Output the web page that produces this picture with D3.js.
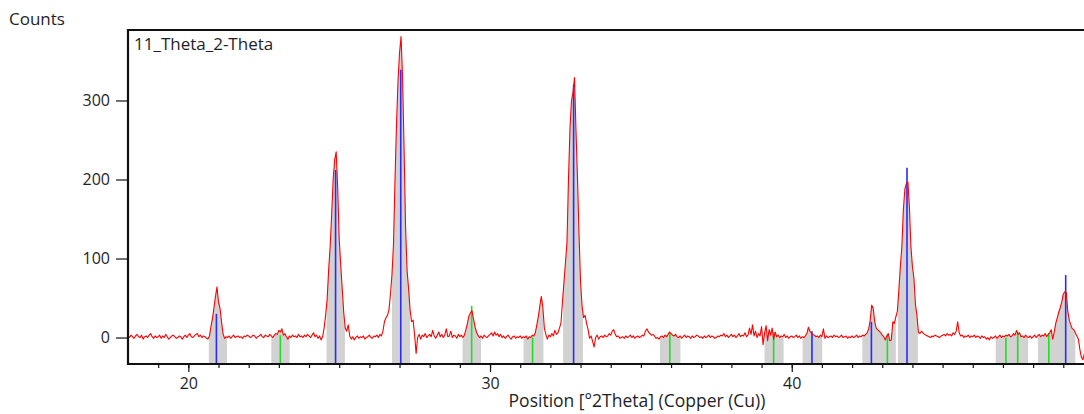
<!DOCTYPE html>
<html>
<head>
<meta charset="utf-8">
<script src="https://cdn.jsdelivr.net/npm/d3@7"></script>
<style>
  html, body { margin: 0; padding: 0; background: #fff; }
  svg { display: block; }
  text { font-family: "Open Sans", "Noto Sans", sans-serif; fill: #1e1e28; }
</style>
</head>
<body>
<svg id="chart" width="1084" height="414"></svg>
<script>
// Scan: 2Theta from 18.00 deg in 0.05 deg steps
const scanStart = 18.0;
const scanStep = 0.05;
const counts = [
  // 18
  2, 0, 3, 1, -1, 2, 4, 1, 0, 3, -2, 1, 2, 0, 3, 5, 1, -1, 2, 0,
  // 19
  1, 3, -1, 2, 0, 4, 1, -2, 0, 2, 3, 1, -1, 0, 2, 1, -2, 1, 3, 0,
  // 20
  3, 5, 1, 0, 2, 4, 5, 1, 3, 0, 2, 1, -1, -2, 2, 14, 24, 38, 52, 64,
  // 21
  45, 37, 20, 5, -1, 1, 0, 2, -1, 1, 3, 0, 1, 2, 0, 1, -1, 2, 1, 3,
  // 22
  2, 0, 1, 3, 2, -1, 1, 2, 4, 1, 0, 3, 2, 1, 4, 2, 0, 3, 5, 4,
  // 23
  9, 7, 11, 3, 5, 1, -2, 2, 0, 3, 1, 2, 0, 4, 1, 2, 0, 3, 1, 4,
  // 24
  2, 0, 3, 6, 1, 3, -1, 2, -3, 1, 12, 28, 48, 85, 115, 155, 200, 225, 235, 190,
  // 25
  125, 92, 62, 32, 12, 8, 16, 2, -2, 1, -3, 0, 2, -1, 1, 0, 2, -2, 0, 1,
  // 26
  3, 0, -1, 2, 1, 3, 0, 4, 2, 8, 20, 25, 28, 35, 55, 80, 118, 200, 270, 325,
  // 27
  360, 381, 330, 240, 140, 85, 62, 35, 20, 22, 3, -20, 0, 4, -2, 3, 1, 5, 0, 2,
  // 28
  4, 1, 9, 2, -1, 3, 7, 1, 4, 0, 3, 11, 1, 2, 8, 0, 3, 2, -1, 4,
  // 29
  1, 3, 0, 3, 10, 18, 27, 31, 34, 24, 14, 7, 3, 0, 2, -1, 3, 1, 0, 2,
  // 30
  4, 6, 2, 7, 3, 5, 1, 4, 0, 2, -1, 1, 3, 0, -2, 1, 2, -1, 1, 0,
  // 31
  2, -1, 1, 0, 2, -2, 1, 0, 3, 2, 6, 16, 26, 40, 52, 38, 12, 4, -2, 3,
  // 32
  1, 5, 2, 9, 4, 6, 12, 18, 45, 70, 95, 120, 200, 265, 300, 310, 329, 260, 200, 130,
  // 33
  70, 40, 25, 28, 18, 10, -1, 2, -5, -12, 0, 3, -2, 1, 2, 0, 3, 1, 2, 5,
  // 34
  3, 8, 10, 4, 1, 2, -1, 0, 1, -1, 2, 0, 1, 3, 0, 2, -1, 1, 2, 0,
  // 35
  1, 3, 2, 8, 11, 7, 5, 3, 4, 2, -1, 0, -2, 1, 2, 0, 3, 1, 4, 7,
  // 36
  5, 3, 2, 4, 1, 0, 2, -1, 1, 3, 0, 2, 1, -1, 2, 0, 1, 3, 2, 0,
  // 37
  1, -1, 2, 0, 1, 3, 0, 2, 1, -1, 0, 2, 1, 3, 2, 5, 1, 3, 0, 2,
  // 38
  4, 1, 3, 0, 2, 5, 1, 3, 2, 6, 1, 3, 12, 4, 16, 2, 8, 0, 5, 2,
  // 39
  14, -9, 6, 15, -4, 10, 3, 12, -2, 7, 1, 3, 0, 2, 1, 4, 0, 2, -1, 1,
  // 40
  2, 0, 1, 3, 0, 2, -1, 1, 0, 2, 5, 13, 8, 6, 4, 3, 1, 2, 0, 3,
  // 41
  1, 11, -1, 2, 0, 1, 2, 0, 3, 1, 2, 0, 1, 3, 0, 1, 2, -1, 1, 0,
  // 42
  2, 0, 1, 3, 0, 2, 1, 3, 2, 4, 6, 11, 22, 41, 37, 20, 12, 10, 8, 6,
  // 43
  3, 1, -3, 2, 5, -4, -3, 20, 18, 26, 33, 60, 90, 115, 162, 188, 195, 197, 165, 115,
  // 44
  90, 75, 42, 28, 6, 5, 8, 6, 4, 3, 2, 1, 0, 2, 1, 3, 2, 1, 0, 2,
  // 45
  3, 4, 2, 5, 3, 4, 2, 6, 4, 8, 20, 6, 2, 3, 0, 2, 1, 3, 0, 2,
  // 46
  1, 3, 0, 2, 1, -1, 2, 0, 1, -2, 0, -3, 1, -1, 0, 2, -1, 1, 3, 0,
  // 47
  2, 1, 3, 2, 4, 1, 2, 5, 3, 9, 4, 6, 1, 2, 0, 3, 1, 0, 2, -1,
  // 48
  1, 3, 0, 2, 4, 1, 3, 2, 5, 1, 4, 6, 10, -2, 7, 18, 25, 32, 38, 45,
  // 49
  55, 58, 57, 33, 22, 16, 11, 10, 6, 2, -2, -15, -25, -28, -20, -18
];

// Reference pattern sticks
const phaseAPos = [20.93, 24.88, 27.04, 32.77, 40.67, 42.64, 43.82, 49.08];
const phaseAHeight = [30, 212, 339, 320, 8, 20, 215, 79];
const phaseBPos = [23.05, 29.39, 31.41, 35.96, 39.40, 43.17, 47.10, 47.49, 48.52];
const phaseBHeight = [3, 40, 0, 5, 7, 4, 0, 7, 6];

// Peak windows (start, end in deg 2Theta)
const windowStart = [20.68, 22.75, 24.58, 26.75, 29.09, 31.11, 32.42, 35.63, 39.10, 40.36, 42.34, 43.52, 46.76, 48.16];
const windowEnd   = [21.28, 23.36, 25.19, 27.35, 29.70, 31.77, 33.08, 36.31, 39.73, 41.01, 43.45, 44.18, 47.83, 49.40];

const xTicksMajor = [20, 30, 40];
const yTicks = [0, 100, 200, 300];

const plotLeft = 128, plotRight = 1085, plotTop = 30, plotBottom = 364;
const yMin = -33.5, yMax = 389.2;

const svg = d3.select("#chart");

const x = d3.scaleLinear().domain([18.0, 49.72]).range([plotLeft, plotRight]);
const y = d3.scaleLinear().domain([yMin, yMax]).range([plotBottom, plotTop]);

const data = counts.map((c, i) => ({ t: +(scanStart + i * scanStep).toFixed(2), c }));

svg.append("defs").append("clipPath").attr("id", "plotClip")
  .append("rect").attr("x", plotLeft).attr("y", plotTop)
  .attr("width", plotRight - plotLeft).attr("height", plotBottom - plotTop);

const plot = svg.append("g").attr("clip-path", "url(#plotClip)");

// Shaded peak windows: area under the scan inside each window
const area = d3.area().x(d => x(d.t)).y0(y(yMin)).y1(d => y(d.c));
const edge = (p, q, t) => ({ t, c: p.c + (q.c - p.c) * (t - p.t) / (q.t - p.t) });
windowStart.forEach((s, i) => {
  const e = windowEnd[i];
  const pts = data.filter(d => d.t >= s && d.t <= e);
  const idxA = data.indexOf(pts[0]), idxB = data.indexOf(pts[pts.length - 1]);
  const full = [];
  if (idxA > 0) full.push(edge(data[idxA - 1], data[idxA], s));
  full.push(...pts);
  if (idxB < data.length - 1) full.push(edge(data[idxB], data[idxB + 1], e));
  plot.append("path").datum(full).attr("d", area).attr("fill", "#d2d2d2");
});

// Sticks
phaseAPos.forEach((p, i) => {
  plot.append("line")
    .attr("x1", x(p)).attr("x2", x(p))
    .attr("y1", y(yMin)).attr("y2", y(phaseAHeight[i]))
    .attr("stroke", "#2a2aff").attr("stroke-width", 1.6);
});
phaseBPos.forEach((p, i) => {
  plot.append("line")
    .attr("x1", x(p)).attr("x2", x(p))
    .attr("y1", y(yMin)).attr("y2", y(phaseBHeight[i]))
    .attr("stroke", "#22dd22").attr("stroke-width", 1.6);
});

// Measured profile
const line = d3.line().x(d => x(d.t)).y(d => y(d.c));
plot.append("path").datum(data).attr("d", line)
  .attr("fill", "none").attr("stroke", "#ff0000").attr("stroke-width", 1.1)
  .attr("stroke-linejoin", "round");

// Axes
const xMajor = d3.axisBottom(x).tickValues(xTicksMajor).tickSize(8).tickPadding(6).tickFormat(d3.format("d"));
const xMinor = d3.axisBottom(x).tickValues(d3.range(19, 50)).tickSize(4).tickFormat("");
const yAxis = d3.axisLeft(y).tickValues(yTicks).tickSize(12).tickPadding(6).tickFormat(d3.format("d"));

const gxm = svg.append("g").attr("transform", `translate(0,${plotBottom})`).call(xMinor);
const gx = svg.append("g").attr("transform", `translate(0,${plotBottom})`).call(xMajor);
const gy = svg.append("g").attr("transform", `translate(${plotLeft},0)`).call(yAxis);
[gxm, gx, gy].forEach(g => {
  g.select(".domain").remove();
  g.selectAll(".tick line").attr("stroke", "#111").attr("stroke-width", 1.2);
});
gx.selectAll("text").attr("font-size", 16).attr("fill", "#1e1e28");
gy.selectAll("text").attr("font-size", 16).attr("fill", "#1e1e28");

// Frame
svg.append("path")
  .attr("d", `M${plotRight},${plotTop}H${plotLeft}V${plotBottom}H${plotRight}`)
  .attr("fill", "none").attr("stroke", "#111").attr("stroke-width", 2.2);

// Labels
svg.append("text").attr("x", 9).attr("y", 25).attr("font-size", 17).text("Counts");
svg.append("text").attr("x", 134).attr("y", 50).attr("font-size", 17).text("11_Theta_2-Theta");
svg.append("text").attr("x", 637).attr("y", 407).attr("font-size", 17.5)
  .attr("text-anchor", "middle").text("Position [°2Theta] (Copper (Cu))");
</script>
</body>
</html>
